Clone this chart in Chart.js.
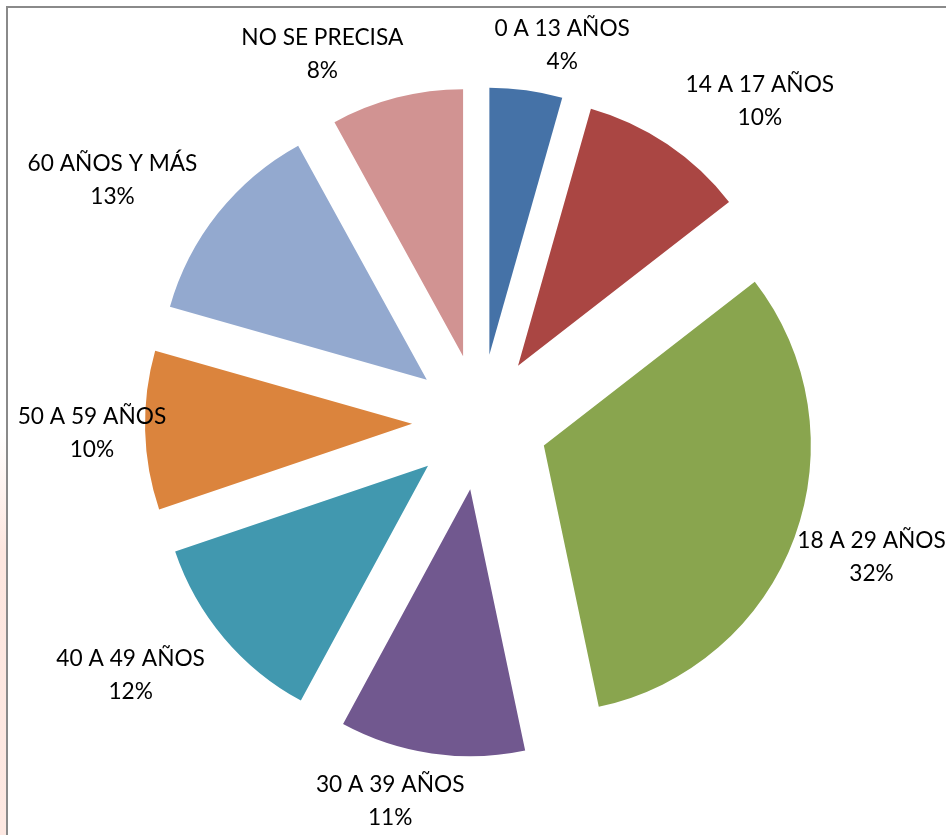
<!DOCTYPE html>
<html>
<head>
<meta charset="utf-8">
<script src="https://cdn.jsdelivr.net/npm/chart.js@4.4.1/dist/chart.umd.min.js"></script>
<style>
  html, body { margin: 0; padding: 0; background: #fff; overflow: hidden; }
  #wrap { position: relative; width: 946px; height: 835px; }
  #marco { position: absolute; left: 6px; top: 6px; width: 1200px; height: 1200px;
           border-left: 2px solid #8a8a8a; border-top: 2px solid #8a8a8a; }
  #tira { position: absolute; left: 0; top: 430px; width: 6px; height: 405px;
          background: linear-gradient(to bottom, rgba(250,220,210,0), #fde6df 30%, #fde8e2); }
  canvas { position: absolute; left: 0; top: 0; }
</style>
</head>
<body>
<div id="wrap">
  <div id="tira"></div>
  <div id="marco"></div>
  <canvas id="grafico" width="946" height="835"></canvas>
</div>
<script>
// Grupos de edad y su participación (%)
const grupos = ["0 A 13 AÑOS", "14 A 17 AÑOS", "18 A 29 AÑOS", "30 A 39 AÑOS",
                "40 A 49 AÑOS", "50 A 59 AÑOS", "60 AÑOS Y MÁS", "NO SE PRECISA"];
const valores = [4.4, 10.1, 32.2, 11.2, 11.9, 9.6, 12.6, 8.0];
const colores = ["#4572A7", "#AA4643", "#89A54E", "#71588F",
                 "#4198AF", "#DB843D", "#93A9CF", "#D19392"];

const total = valores.reduce((s, v) => s + v, 0);
const porcentajes = valores.map(v => Math.round(v / total * 100));

const separacion = 68;   // desplazamiento de cada porción (px)
// ajustes de colocación de cada etiqueta (grados / px)
const ajusteAngulo = [3.4, 4.4, 0.8, 3.8, 1.5, -0.4, -1.9, -6.5];
const ajusteDist = [6, 31, 0, 10, 28, -31, 28, 16];
const fuente = "22.7px Lato, 'Open Sans', sans-serif";

// Dibuja cada porción separada del centro (pastel explotado)
const explotar = {
    id: "explotar",
    beforeDatasetDraw(chart, args) {
        const ctx = chart.ctx;
        args.meta.data.forEach(arc => {
            const medio = (arc.startAngle + arc.endAngle) / 2;
            ctx.save();
            ctx.translate(Math.cos(medio) * separacion, Math.sin(medio) * separacion);
            arc.draw(ctx);
            ctx.restore();
        });
        return false;
    }
};

// Etiquetas: nombre del grupo y porcentaje
const etiquetas = {
    id: "etiquetas",
    afterDatasetsDraw(chart) {
        const ctx = chart.ctx;
        const meta = chart.getDatasetMeta(0);
        ctx.save();
        ctx.font = fuente;
        ctx.fillStyle = "#000";
        ctx.textAlign = "center";
        ctx.textBaseline = "middle";
        meta.data.forEach((arc, i) => {
            const lineas = [grupos[i], porcentajes[i] + "%"];
            const ancho = Math.max(...lineas.map(t => ctx.measureText(t).width));
            const alto = 66;
            const ang = (arc.startAngle + arc.endAngle) / 2 + ajusteAngulo[i] * Math.PI / 180;
            const r = arc.outerRadius + separacion + 10 + ajusteDist[i];
            const cx = arc.x + Math.cos(ang) * (r + ancho / 2);
            const cy = arc.y + Math.sin(ang) * (r + alto / 2);
            ctx.fillText(lineas[0], cx, cy - 16.5);
            ctx.fillText(lineas[1], cx, cy + 16.5);
        });
        ctx.restore();
    }
};

new Chart(document.getElementById("grafico"), {
    type: "pie",
    data: {
        labels: grupos,
        datasets: [{
            data: valores,
            backgroundColor: colores,
            borderWidth: 0
        }]
    },
    options: {
        responsive: false,
        animation: false,
        devicePixelRatio: 1,
        radius: 267,
        layout: { padding: { left: 14, top: 9, right: 0, bottom: 0 } },
        plugins: {
            legend: { display: false },
            tooltip: { enabled: false }
        },
        events: []
    },
    plugins: [explotar, etiquetas]
});
</script>
</body>
</html>
